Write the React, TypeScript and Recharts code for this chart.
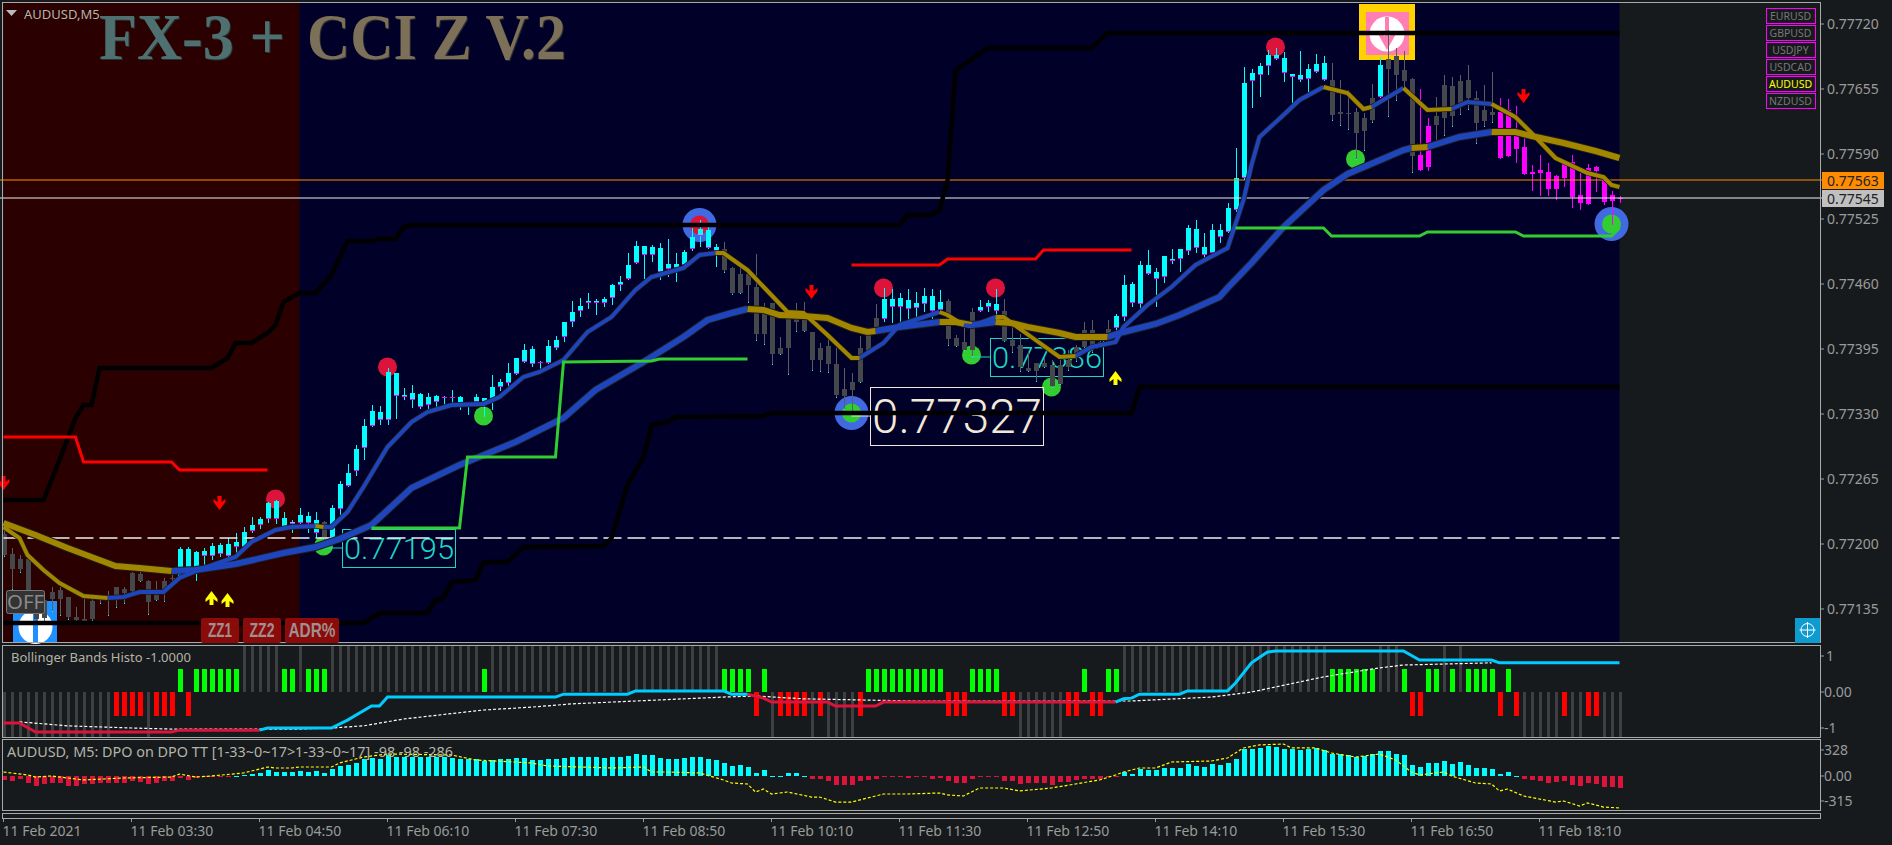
import React from "react";
import { ComposedChart, Bar, Line, XAxis, YAxis, ReferenceArea, ReferenceLine } from "recharts";

// All main-window prices are points above 0.77000 (e.g. 720 = 0.77720)
const candleHigh = [
219,196,189,189,154,149,157,157,147,137,
146,145,148,153,157,157,172,172,164,163,
166,174,197,197,193,196,201,201,206,211,
217,227,227,242,244,232,224,236,232,232,
223,239,263,280,299,325,339,338,376,371,
356,359,351,351,349,348,354,348,342,350,
346,369,365,381,386,400,398,383,404,408,
422,443,446,451,445,447,460,468,491,503,
498,499,501,505,491,494,516,524,521,500,
502,477,477,474,490,441,441,407,426,441,
442,412,401,406,396,376,371,408,412,440,
456,455,451,455,452,456,455,454,445,409,
421,436,444,444,455,445,417,410,392,381,
386,384,384,394,399,422,424,409,424,430,
469,462,483,494,476,488,495,495,519,524,
511,520,520,541,596,677,675,681,694,696,
692,670,693,680,690,688,681,664,654,636,
631,660,687,714,696,693,666,655,626,647,
669,667,669,679,653,659,672,646,645,638,
607,579,589,581,569,584,589,571,580,578,
566,553,548];
const bodyTop = [
210,190,185,185,144,144,152,154,147,127,
125,143,147,149,157,155,171,170,163,149,
163,166,195,195,192,193,198,199,200,202,
212,219,225,241,243,226,222,229,228,224,
222,236,260,271,295,318,333,332,372,371,
349,351,350,347,348,347,347,347,341,347,
346,357,362,371,386,394,395,382,398,404,
422,432,438,443,443,445,459,462,479,498,
498,497,496,480,480,492,507,515,514,497,
495,476,470,470,457,431,441,396,426,426,
426,412,396,398,380,355,362,396,412,426,
445,445,446,444,441,448,448,442,443,406,
402,432,437,441,440,433,404,399,376,381,
381,379,379,384,397,414,414,402,415,428,
459,460,479,479,472,488,485,495,516,515,
497,514,514,536,566,661,671,678,689,689,
686,670,669,675,680,681,664,632,631,632,
626,646,679,685,688,674,665,589,618,628,
659,658,663,664,646,634,632,632,634,608,
597,572,574,572,568,580,582,549,576,577,
565,549,546];
const bodyBottom = [
189,175,175,154,125,126,145,145,127,124,
123,125,144,148,149,151,153,163,142,144,
155,165,167,169,174,188,188,190,188,197,
197,213,219,225,225,217,220,221,221,211,
205,206,235,258,273,296,318,324,324,348,
347,344,337,339,342,346,346,341,340,342,
342,344,357,361,370,382,380,381,381,396,
407,422,433,441,441,441,446,459,465,481,
489,489,472,475,476,479,495,508,496,493,
474,451,451,459,410,410,390,390,396,422,
413,384,384,380,349,348,354,362,393,417,
425,437,437,435,436,440,433,434,405,398,
394,394,433,437,433,403,398,377,373,373,
377,358,360,377,386,397,396,397,409,416,
427,441,440,470,465,467,483,485,493,496,
489,491,507,512,534,566,663,669,678,685,
671,667,664,665,672,664,629,630,630,611,
613,624,647,675,669,663,588,574,577,619,
626,628,640,646,621,623,629,586,588,595,
570,570,571,555,555,566,547,541,540,573,
542,543,545];
const candleLow = [
187,154,171,144,122,122,132,128,124,122,
122,123,140,128,136,140,152,162,129,143,
142,159,165,168,163,172,184,187,184,191,
196,211,215,221,220,216,211,220,211,206,
199,204,229,257,268,284,317,319,319,325,
344,336,335,334,337,338,341,334,329,340,
327,334,353,355,369,381,377,373,380,394,
402,417,427,435,429,437,439,453,464,480,
465,482,464,467,462,477,493,497,495,477,
471,449,450,441,403,399,379,389,369,412,
412,373,372,371,346,334,331,361,392,414,
422,421,421,424,426,432,424,433,398,397,
393,387,432,432,424,402,391,372,372,362,
376,356,359,373,382,396,391,396,404,412,
423,437,432,469,437,461,480,472,489,491,
485,490,501,511,532,564,636,647,669,684,
662,638,662,650,671,663,623,618,614,584,
593,621,646,627,643,652,571,573,573,602,
608,617,629,634,600,617,621,585,587,581,
569,553,548,548,544,557,536,534,539,552,
539,519,541];
const candleStates = [["gray",22],["cyan",18],["gray",1],["cyan",49],["gray",20],["cyan",8],["gray",4],["cyan",3],["gray",14],["cyan",27],["gray",6],["cyan",1],["gray",4],["magenta",2],["gray",8],["magenta",16]];

const slowGold = [
  [[0,221],[2,215],[4,209],[8,196],[12,184],[14,178],[17,176],[21,173]],
  [[93,435],[95,434],[97,429],[100,428],[103,426],[106,416],[108,412],[109,413]],
  [[117,422],[119,422],[121,419]],
  [[124,422],[126,421],[128,417],[132,411],[134,407],[138,407]],
  [[176,596],[178,597]],
  [[186,612],[189,612],[191,608],[195,601],[199,593],[202,586]],
];
const slowBlue = [
  [[21,173],[24,174],[29,180],[35,191],[39,197],[42,205],[46,219],[51,256],[57,279],[64,302],[70,326],[74,354],[80,382],[85,407],[88,424],[91,431],[93,435]],
  [[109,413],[112,417],[117,422]],
  [[121,419],[124,422]],
  [[138,407],[140,412],[144,420],[147,429],[152,447],[153,456],[156,481],[158,499],[160,517],[165,554],[168,570],[175,594],[176,596]],
  [[178,597],[182,607],[186,612]],
];
const fastGold = [
  [[0,217],[2,206],[3,189],[5,174],[7,161],[10,148],[13,146]],
  [[39,218],[40,217]],
  [[89,491],[90,491],[93,474],[98,432],[100,431],[103,409],[106,386],[107,386]],
  [[117,432],[118,429],[120,419]],
  [[124,427],[125,427],[129,404],[132,387],[134,388]],
  [[165,657],[168,651],[170,635],[171,637]],
  [[175,656],[178,634],[181,635]],
  [[186,640],[189,627],[191,611],[194,586],[198,571],[200,567],[201,559],[202,557]],
];
const fastBlue = [
  [[13,146],[15,147],[17,152],[20,152],[22,166],[25,176],[29,187],[31,202],[34,214],[36,217],[39,218]],
  [[40,217],[41,217],[43,232],[45,257],[48,297],[51,322],[53,332],[56,339],[60,340],[62,347],[65,367],[67,372],[70,384],[73,412],[76,427],[79,454],[81,467],[85,476],[87,489],[89,491]],
  [[107,386],[110,401],[112,419],[117,432]],
  [[120,419],[121,418],[124,427]],
  [[134,388],[136,397],[139,402],[140,417],[143,439],[146,457],[149,479],[153,496],[155,544],[156,579],[157,607],[160,629],[162,644],[165,657]],
  [[171,637],[175,656]],
  [[181,635],[183,642],[186,640]],
];
const blackLines = [
  [[0,244],[5,244],[7,284],[9,326],[10,339],[11,339],[12,376],[26,376],[28,386],[29,401],[31,401],[33,411],[34,419],[35,442],[37,451],[39,451],[41,469],[43,503],[46,503],[47,505],[49,505],[50,517],[51,519],[112,519],[113,529],[116,529],[117,534],[118,564],[119,674],[120,679],[123,696],[136,696],[138,711],[202,711]],
  [[0,121],[45,121],[47,131],[53,131],[54,144],[55,146],[56,162],[59,164],[60,182],[63,182],[65,197],[75,198],[76,206],[78,259],[80,287],[81,319],[83,322],[84,327],[95,328],[96,331],[141,331],[142,357],[202,357]],
];
const redLines = [
  [[0,307],[9,307],[10,282],[21,282],[22,274],[33,274]],
  [[106,479],[117,479],[118,485],[129,485],[130,494],[141,494]],
];
const greenLines = [
  [[46,216],[57,216],[58,287],[69,287],[70,382],[81,383],[82,385],[93,385]],
  [[154,516],[165,516],[166,508],[177,508],[178,512],[189,512],[190,508],[201,508],[202,516]],
];
const dashedLevel = [[0,206],[202,206]];
const redDots = [[34,245],[48,377],[87,519],[110,456],[124,456],[159,697]];
const greenDots = [[40,198],[60,328],[121,389],[131,357],[169,585],[106,331],[201,520]];
const ringDots = [[87,519],[106,331],[201,520]];
const redArrows = [[0,261],[27,241],[101,452],[190,648]];
const yellowArrows = [[26,146],[28,144],[139,366]];
const priceLabels = [[40,198,"0.77195"],[121,389,"0.77386"],[106,331,"0.77327"]];
const askLine = 564;
const bidLine = 546;
const priceTicks = [720,655,590,525,460,395,330,265,200,135];
const timeTicks = [0,16,32,48,64,80,96,112,128,144,160,176,192];
const timeLabels = ["11 Feb 2021","11 Feb 03:30","11 Feb 04:50","11 Feb 06:10","11 Feb 07:30","11 Feb 08:50","11 Feb 10:10","11 Feb 11:30","11 Feb 12:50","11 Feb 14:10","11 Feb 15:30","11 Feb 16:50","11 Feb 18:10"];

const bbRuns = [["D",14],["R",4],["D",1],["R",3],["G",1],["R",1],["G",6],["U",5],["G",2],["U",1],["G",3],["U",19],["G",1],["U",29],["G",4],["R",1],["G",1],["D",1],["R",4],["D",1],["R",1],["D",4],["R",1],["G",10],["R",3],["G",4],["R",2],["D",6],["R",2],["G",1],["R",2],["G",2],["U",26],["G",6],["U",3],["G",1],["R",2],["G",2],["U",1],["G",1],["U",1],["G",4],["R",1],["G",1],["R",1],["D",5],["R",1],["D",2],["R",2],["D",3]];
const bbStateValue = { U: 1.31, D: -1.25, G: 0.63, R: -0.66 };
const bbCrimson = [
  [[0,-0.86],[2,-0.86],[4,-1.11],[21,-1.11],[22,-1.06],[32,-1.06]],
  [[93,-0.06],[95,-0.17],[96,-0.28],[103,-0.28],[104,-0.39],[109,-0.39],[110,-0.28],[139,-0.28]],
];
const bbCyan = [
  [[32,-1.06],[33,-1],[41,-1],[43,-0.78],[46,-0.39],[47,-0.39],[48,-0.14],[69,-0.14],[70,-0.06],[78,-0.06],[79,0.03],[90,0.03],[91,-0.06],[93,-0.06]],
  [[139,-0.28],[140,-0.19],[141,-0.17],[142,-0.06],[147,-0.06],[148,0.03],[153,0.03],[154,0.25],[156,0.81],[158,1.11],[159,1.14],[175,1.14],[177,0.89],[186,0.89],[187,0.81],[202,0.81]],
];
const bbSignal = [[2,-0.83],[8,-0.94],[16,-1],[21,-1.03],[37,-1.03],[41,-1],[45,-0.94],[50,-0.75],[60,-0.5],[66,-0.42],[71,-0.33],[80,-0.24],[90,-0.14],[94,-0.11],[100,-0.19],[114,-0.25],[141,-0.25],[151,-0.14],[156,0],[162,0.28],[165,0.42],[172,0.67],[175,0.75],[186,0.81]];
const bbTicks = [1,0,-1];

const dpoValues = [
-50,-63,-38,-88,-126,-101,-88,-88,-126,-126,
-101,-101,-88,-88,-88,-88,-63,-76,-101,-88,
-63,-63,-25,-50,-25,-13,-5,-13,-3,4,
13,25,38,76,50,50,50,63,50,63,
38,88,126,139,164,214,227,214,265,239,
239,239,239,239,239,239,227,214,214,214,
189,202,214,214,227,227,202,202,214,214,
227,239,239,239,239,227,239,239,252,277,
265,265,227,214,214,227,239,239,214,202,
164,126,139,113,38,76,6,4,38,38,
6,-38,-38,-63,-113,-113,-113,-63,-50,-38,
-13,-13,-13,-25,-13,-13,-38,-25,-63,-88,
-88,-38,-13,-13,-13,-63,-63,-101,-88,-88,
-88,-113,-76,-76,-50,-38,-38,-38,-13,-3,
50,25,88,76,76,101,101,101,151,126,
113,151,139,164,214,340,340,353,378,365,
340,340,328,340,353,328,277,277,265,239,
252,277,315,315,277,265,139,113,164,164,
189,151,176,139,101,101,88,25,50,6,
-38,-50,-63,-88,-76,-63,-113,-126,-88,-101,
-139,-139,-151];
const dpoSignal = [[0,50],[3,13],[4,-13],[6,0],[10,-50],[15,-25],[21,-13],[22,25],[24,-13],[26,0],[30,38],[33,113],[34,101],[36,101],[37,113],[41,113],[42,164],[45,239],[48,277],[56,265],[59,202],[66,164],[68,126],[76,101],[80,113],[81,50],[83,50],[87,38],[90,-50],[91,-88],[93,-101],[94,-202],[95,-164],[96,-227],[98,-202],[101,-265],[102,-265],[104,-328],[106,-328],[110,-227],[113,-227],[117,-214],[118,-239],[120,-252],[122,-151],[125,-151],[127,-189],[131,-151],[134,-101],[137,-50],[139,13],[140,50],[142,101],[144,101],[146,176],[151,189],[153,227],[155,353],[157,391],[160,403],[161,353],[164,353],[166,290],[169,239],[172,277],[174,202],[176,50],[177,13],[180,50],[181,0],[184,-88],[186,-101],[187,-189],[188,-164],[190,-252],[194,-328],[195,-315],[197,-378],[198,-340],[200,-391],[202,-403]];
const dpoTicks = [328,0,-315];
const pairs = ["EURUSD","GBPUSD","USDJPY","USDCAD","AUDUSD","NZDUSD"];

// ---------- table ----------
const SLOTS = 228;
const rows = Array.from({ length: SLOTS }, (_, bar) => ({ bar } as any));
const expand = (runs) => runs.flatMap(([s, n]) => Array(n).fill(s));
const candleKinds = expand(candleStates);
const bbKinds = expand(bbRuns);
candleHigh.forEach((h, i) => {
  const r = rows[i];
  r.range = [candleLow[i], h];
  r.top = bodyTop[i];
  r.bot = bodyBottom[i];
  r.kind = candleKinds[i];
  r.bbKind = bbKinds[i];
  r.bb = bbStateValue[bbKinds[i]];
  r.dpo = dpoValues[i];
});
const put = (key, pts) => pts.forEach((p) => { rows[p[0]][key] = p[1]; });
const group = (name, list) => list.map((pts, i) => { const k = name + i; put(k, pts); return k; });
const kSlowGold = group("slowGold", slowGold);
const kSlowBlue = group("slowBlue", slowBlue);
const kFastGold = group("fastGold", fastGold);
const kFastBlue = group("fastBlue", fastBlue);
const kBlack = group("black", blackLines);
const kRed = group("red", redLines);
const kGreen = group("green", greenLines);
const kBbCrimson = group("bbCrimson", bbCrimson);
const kBbCyan = group("bbCyan", bbCyan);
put("dashed", dashedLevel);
put("redDot", redDots);
put("greenDot", greenDots);
put("ringDot", ringDots);
put("redArrow", redArrows);
put("yellowArrow", yellowArrows);
put("bbSignal", bbSignal);
put("dpoSignal", dpoSignal);
priceLabels.forEach(([b, v, t]) => { rows[b as number].labelAt = v; rows[b as number].labelText = t; });

// ---------- constants ----------
const FONT = "'Noto Sans', sans-serif";
const AXIS_COLOR = "#9a9a9a";
const BG = "#171a1d";
const CHART_W = 1893;
const AXIS_W = 68.5;
const GOLD = "#a38600";
const BLUE = "#1f45bd";
const CASING = "#1c1c1c";
const mainDomain = [101, 741];

// ---------- shapes ----------
const CANDLE = { cyan: "#00ffff", gray: "#44484a", magenta: "#ff00ff" };
const Candle = (p) => {
  const d = p.payload;
  if (!d || !d.range) return null;
  const [lo, hi] = d.range;
  const k = p.height / (hi - lo);
  const toY = (v) => Math.round(p.y + (hi - v) * k);
  const x = Math.round(p.x);
  const c = CANDLE[d.kind];
  const yTop = toY(d.top), yBot = toY(d.bot), yLow = toY(lo), yHigh = toY(hi);
  return (
    <g shapeRendering="crispEdges">
      <rect x={x + 2} y={yHigh} width={1} height={Math.max(1, yLow - yHigh)} fill={d.kind === "gray" ? "#5a5e60" : c} />
      <rect x={x} y={yTop} width={5} height={Math.max(1, yBot - yTop)} fill={c} />
      {d.kind === "cyan" && <rect x={x} y={yBot - 1} width={5} height={1} fill="#ff00ff" />}
      {d.kind === "gray" && <rect x={x + 2} y={yLow - 1} width={1} height={1} fill="#00ffff" />}
    </g>
  );
};
const HistShape = (colorOf, widthOf) => (p) => {
  const d = p.payload;
  if (!d || d.dpo === undefined) return null;
  const y1 = Math.round(Math.min(p.y, p.y + p.height));
  const h = Math.max(1, Math.round(Math.abs(p.height)));
  const w = widthOf(d);
  return <rect x={Math.round(p.x) + (5 - w) / 2} y={y1} width={w} height={h} fill={colorOf(d)} shapeRendering="crispEdges" />;
};
const BB_COLOR = { U: "#3d3f41", D: "#3d3f41", G: "#00ff00", R: "#ff0000" };
const bbShape = HistShape((d) => BB_COLOR[d.bbKind], (d) => (d.bbKind === "U" || d.bbKind === "D" ? 3 : 5));
const dpoShape = HistShape((d) => (d.dpo >= 0 ? "#00ffff" : "#dc143c"), () => 5);
const zoneShape = (fill) => (p) => <rect x={p.x + 4} y={p.y} width={p.width - 8} height={p.height} fill={fill} />;

const marker = (draw) => (p) => {
  const val = p.value;
  if (val === null || val === undefined || p.cy === null || p.cy === undefined) return <g key={p.key ?? p.index} />;
  return <g key={p.key ?? p.index}>{draw(p.cx, p.cy, p.payload)}</g>;
};
const arrowDown = "M-2,-7 H2 V-1 L6,-4 V-1 L0,7 L-6,-1 V-4 L-2,-1 Z";
const arrowUp = "M-2,7 H2 V1 L6,4 V1 L0,-7 L-6,1 V4 L-2,1 Z";
const labelBox = (cx, cy, d) => {
  const big = d.labelText === "0.77327";
  const w = big ? 173 : 113, h = big ? 58 : 38, top = big ? -26 : -17;
  const color = big ? "#f2e8d8" : "#19d8c8";
  const x = Math.round(cx) + 18, y = Math.round(cy) + top;
  return (
    <g>
      <line x1={cx} y1={y + h / 2} x2={x} y2={y + h / 2} stroke={color} />
      <rect x={x + 0.5} y={y + 0.5} width={w} height={h} fill="none" stroke={color} />
      <text x={x + 2} y={y + h / 2 + (big ? 17 : 11)} fill={color} fontFamily="Roboto" fontWeight={300} fontSize={big ? 48 : 30} textLength={w - 3} lengthAdjust="spacingAndGlyphs">{d.labelText}</text>
    </g>
  );
};

const plain = { isAnimationActive: false, dot: false, activeDot: false, connectNulls: true, legendType: "none" as const, strokeLinejoin: "miter" as const };

const priceTick = (p) => {
  const v = p.payload.value;
  return (
    <g key={v}>
      <line x1={1822} x2={1825} y1={p.y} y2={p.y} stroke={AXIS_COLOR} />
      <text x={1828} y={p.y + 5} fill={AXIS_COLOR} fontFamily={FONT} fontSize={14}>{((77000 + v) / 100000).toFixed(5)}</text>
    </g>
  );
};
const subTick = (fmt) => (p) => {
  const v = p.payload.value;
  return (
    <g key={v}>
      <line x1={1822} x2={1825} y1={p.y} y2={p.y} stroke={AXIS_COLOR} />
      <text x={v === 1 ? 1827 : 1825} y={p.y + 5} fill={AXIS_COLOR} fontFamily={FONT} fontSize={14}>{fmt(v)}</text>
    </g>
  );
};
const timeTick = (p) => {
  const v = p.payload.value;
  const idx = timeTicks.indexOf(v);
  return (
    <g key={v}>
      <line x1={p.x} x2={p.x} y1={79} y2={83} stroke={AXIS_COLOR} />
      <text x={p.x - 1} y={97} fill={AXIS_COLOR} fontFamily={FONT} fontSize={14}>{timeLabels[idx]}</text>
    </g>
  );
};

const common = { width: CHART_W, data: rows, margin: { top: 0, right: 0, bottom: 0, left: 0.5 } };
const pos = (top) => ({ position: "absolute" as const, left: -1, top });

export default function App() {
  return (
    <div style={{ position: "absolute", left: 0, top: 0, width: 1892, height: 845, background: BG, overflow: "hidden" }}>
      {/* back layer: zones, circles, boxed labels */}
      <div style={pos(3)}>
        <ComposedChart {...common} height={640}>
          <XAxis dataKey="bar" type="category" scale="band" hide />
          <YAxis type="number" orientation="right" domain={mainDomain} allowDataOverflow width={AXIS_W} tick={false} axisLine={false} tickLine={false} />
          <ReferenceArea x1={0} x2={37} shape={zoneShape("#2b0000")} />
          <ReferenceArea x1={37} x2={202} shape={zoneShape("#000028")} />
          <Line dataKey="ringDot" stroke="none" {...plain} connectNulls={false} dot={marker((x, y) => <circle cx={x} cy={y} r={17} fill="#4169e1" />)} />
          <Line dataKey="redDot" stroke="none" {...plain} connectNulls={false} dot={marker((x, y) => <circle cx={x} cy={y} r={9.5} fill="#dc143c" />)} />
          <Line dataKey="greenDot" stroke="none" {...plain} connectNulls={false} dot={marker((x, y) => <circle cx={x} cy={y} r={9.5} fill="#32cd32" />)} />
          <Line dataKey="labelAt" stroke="none" {...plain} connectNulls={false} dot={marker(labelBox)} />
        </ComposedChart>
      </div>

      {/* pictograms that the price series pass over */}
      <svg width={1892} height={845} style={{ position: "absolute", left: 0, top: 0 }}>
        <rect x={1359} y={4} width={56} height={56} fill="#ffd200" />
        <rect x={1366} y={12} width={43} height={43} fill="#ff7fb4" />
        <circle cx={1387} cy={34} r={17.5} fill="#ffffff" />
        <path d="M1385,17 h4 v19 l8,-4 l-10,18 l-10,-18 l8,4 z" fill="#ff7fb4" />
        <rect x={13} y={601} width={44} height={42} fill="#1e90ff" />
        <path d="M18.5,627 a17,17 0 0 1 34,0 a17,17 0 0 1 -34,0 z" fill="#ffffff" />
        <rect x={33} y={610} width={5} height={33} fill="#1e90ff" />
      </svg>

      {/* front layer: candles and indicator lines */}
      <div style={pos(3)}>
        <ComposedChart {...common} height={640}>
          <XAxis dataKey="bar" type="category" scale="band" hide />
          <YAxis type="number" orientation="right" domain={mainDomain} allowDataOverflow width={AXIS_W} ticks={priceTicks} interval={0} tick={priceTick} axisLine={false} tickLine={false} />
          <ReferenceLine y={askLine} stroke="#ff8c00" />
          <ReferenceLine y={bidLine} stroke="#f0f0f0" />
          <Line dataKey="dashed" stroke="#f0f0f0" strokeWidth={1.5} strokeDasharray="18 6" {...plain} />
          <Bar dataKey="range" barSize={5} isAnimationActive={false} shape={Candle} />
          {kSlowGold.concat(kSlowBlue).map((k) => <Line key={"c" + k} dataKey={k} stroke={CASING} strokeWidth={8} {...plain} />)}
          {kFastGold.concat(kFastBlue).map((k) => <Line key={"c" + k} dataKey={k} stroke={CASING} strokeWidth={5.5} {...plain} />)}
          {kSlowBlue.map((k) => <Line key={k} dataKey={k} stroke={BLUE} strokeWidth={6} {...plain} />)}
          {kSlowGold.map((k) => <Line key={k} dataKey={k} stroke={GOLD} strokeWidth={6} {...plain} />)}
          {kFastBlue.map((k) => <Line key={k} dataKey={k} stroke={BLUE} strokeWidth={4} {...plain} />)}
          {kFastGold.map((k) => <Line key={k} dataKey={k} stroke={GOLD} strokeWidth={4} {...plain} />)}
          {kBlack.map((k) => <Line key={k} dataKey={k} stroke="#000000" strokeWidth={4.5} {...plain} />)}
          {kRed.map((k) => <Line key={k} dataKey={k} stroke="#ff0000" strokeWidth={3} {...plain} />)}
          {kGreen.map((k) => <Line key={k} dataKey={k} stroke="#32cd32" strokeWidth={3} {...plain} />)}
          <Line dataKey="redArrow" stroke="none" {...plain} connectNulls={false} dot={marker((x, y) => <path transform={`translate(${x},${y})`} d={arrowDown} fill="#ff0000" />)} />
          <Line dataKey="yellowArrow" stroke="none" {...plain} connectNulls={false} dot={marker((x, y) => <path transform={`translate(${x},${y})`} d={arrowUp} fill="#ffff00" />)} />
        </ComposedChart>
      </div>

      {/* Bollinger Bands Histo */}
      <div style={pos(645)}>
        <ComposedChart {...common} height={92}>
          <XAxis dataKey="bar" type="category" scale="band" hide />
          <YAxis type="number" orientation="right" domain={[-1.25, 1.306]} allowDataOverflow width={AXIS_W} ticks={bbTicks} interval={0} tick={subTick((v) => (v === 0 ? "0.00" : String(v)))} axisLine={false} tickLine={false} />
          <Bar dataKey="bb" barSize={5} isAnimationActive={false} shape={bbShape} />
          <Line dataKey="bbSignal" stroke="#ffffff" strokeWidth={1.2} strokeDasharray="3 2" {...plain} />
          {kBbCrimson.map((k) => <Line key={k} dataKey={k} stroke="#dc143c" strokeWidth={3} {...plain} />)}
          {kBbCyan.map((k) => <Line key={k} dataKey={k} stroke="#00ccff" strokeWidth={3} {...plain} />)}
        </ComposedChart>
      </div>

      {/* DPO + time axis */}
      <div style={pos(739)}>
        <ComposedChart {...common} height={106}>
          <XAxis dataKey="bar" type="category" scale="band" height={34} ticks={timeTicks} interval={0} tick={timeTick} axisLine={false} tickLine={false} />
          <YAxis type="number" orientation="right" domain={[-441, 466]} allowDataOverflow width={AXIS_W} ticks={dpoTicks} interval={0} tick={subTick((v) => (v === 0 ? "0.00" : String(v)))} axisLine={false} tickLine={false} />
          <Bar dataKey="dpo" barSize={5} isAnimationActive={false} shape={dpoShape} />
          <Line dataKey="dpoSignal" stroke="#ffff00" strokeWidth={1.2} strokeDasharray="3 2" {...plain} />
        </ComposedChart>
      </div>

      {/* chrome */}
      <svg width={1892} height={845} style={{ position: "absolute", left: 0, top: 0, pointerEvents: "none" }}>
        <g fill="none" stroke="#a9a9a9" shapeRendering="crispEdges">
          <rect x={2.5} y={2.5} width={1818} height={640} />
          <rect x={2.5} y={645.5} width={1818} height={92} />
          <rect x={2.5} y={739.5} width={1818} height={71} />
          <rect x={2.5} y={813.5} width={1818} height={5} />
        </g>
        <polygon points="6,10 17,10 11.5,16" fill="#bbbbbb" />
        <text x={24} y={19} fill="#b4b4a8" fontFamily={FONT} fontSize={13}>AUDUSD,M5</text>
        <g fontFamily="'Liberation Serif', serif" fontWeight="bold" fontSize={66}>
          <text x={100} y={60} fill="#2a3030" textLength={186} lengthAdjust="spacingAndGlyphs">FX-3 +</text>
          <text x={99} y={59} fill="#4f7070" textLength={186} lengthAdjust="spacingAndGlyphs">FX-3 +</text>
          <text x={308} y={60} fill="#2a2a30" textLength={259} lengthAdjust="spacingAndGlyphs">CCI Z V.2</text>
          <text x={307} y={59} fill="#7d7058" textLength={259} lengthAdjust="spacingAndGlyphs">CCI Z V.2</text>
        </g>
        <rect x={6.5} y={590.5} width={38} height={23} rx={2} fill="#333333" stroke="#777777" />
        <text x={7} y={609} fill="#8a8a8a" fontFamily={FONT} fontSize={20} textLength={37} lengthAdjust="spacingAndGlyphs">OFF</text>
        {[["ZZ1", 201, 38, 24], ["ZZ2", 243, 38, 25], ["ADR%", 285, 54, 47]].map(([t, x, w, tl]) => (
          <g key={t as string}>
            <rect x={x as number} y={618} width={w as number} height={25} rx={2} fill="#8b0a0a" />
            <text x={(x as number) + ((w as number) - (tl as number)) / 2} y={637} fill="#a08f8f" fontFamily="'Liberation Sans'" fontWeight="bold" fontSize={20} textLength={tl as number} lengthAdjust="spacingAndGlyphs">{t}</text>
          </g>
        ))}
        {pairs.map((t, i) => (
          <g key={t}>
            <rect x={1766} y={8.5 + i * 17} width={49} height={15} fill="none" stroke="#ff00ff" shapeRendering="crispEdges" />
            <text x={1790.5} y={20 + i * 17} textAnchor="middle" fill={t === "AUDUSD" ? "#ffff00" : "#777777"} fontFamily={FONT} fontSize={10.5}>{t}</text>
          </g>
        ))}
        <rect x={1822} y={172} width={62} height={17} fill="#ff8c00" />
        <text x={1827} y={185.5} fill="#222222" fontFamily={FONT} fontSize={14}>0.77563</text>
        <rect x={1822} y={190} width={62} height={17} fill="#c0c0c0" />
        <text x={1827} y={203.5} fill="#222222" fontFamily={FONT} fontSize={14}>0.77545</text>
        <rect x={1795} y={618} width={25} height={25} fill="#0e9bd0" />
        <circle cx={1807.5} cy={630} r={6.5} fill="none" stroke="#ffffff" />
        <path d="M1807.5,622 v16 M1799.5,630 h16" stroke="#ffffff" />
        <text x={11} y={662} fill="#b4b4a8" fontFamily={FONT} fontSize={13}>Bollinger Bands Histo -1.0000</text>
        <text x={7} y={757} fill="#b4b4a8" fontFamily={FONT} fontSize={13.5} textLength={446} lengthAdjust="spacingAndGlyphs">AUDUSD, M5: DPO on DPO TT [1-33~0~17&gt;1-33~0~17] -98 -98 -286</text>
      </svg>
    </div>
  );
}
